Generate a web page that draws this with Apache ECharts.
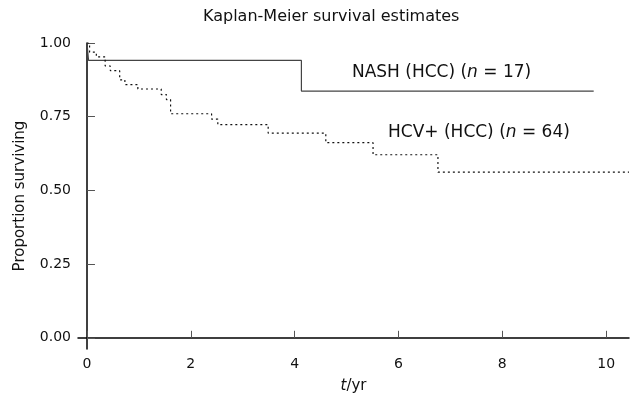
<!DOCTYPE html>
<html>
<head>
<meta charset="utf-8">
<script src="https://cdn.jsdelivr.net/npm/echarts@6/dist/echarts.min.js"></script>
<style>
  html, body { margin: 0; padding: 0; background: #fff; }
  #chartmain { width: 632px; height: 401px; }
</style>
</head>
<body>
<div id="chartmain"></div>
<script>
// Kaplan-Meier step curves
var nashTimes = [0, 0.03, 4.13, 9.76];
var nashSurv = [1.0, 0.941, 0.837, 0.837];

var hcvTimes = [0, 0.05, 0.18, 0.35, 0.45, 0.63, 0.73, 0.98, 1.43, 1.53, 1.61, 2.40, 2.52, 3.49, 4.60, 5.51, 6.76, 10.44];
var hcvSurv = [1.0, 0.969, 0.953, 0.922, 0.906, 0.875, 0.859, 0.844, 0.825, 0.808, 0.760, 0.742, 0.723, 0.694, 0.662, 0.621, 0.562, 0.562];

var xTicks = [0, 2, 4, 6, 8, 10];
var yTicks = [0, 0.25, 0.5, 0.75, 1];

function pairs(xs, ys) {
	var out = [];
	for (var i = 0; i < xs.length; i++) {
		out.push([xs[i], ys[i]]);
	}
	return out;
}

var font = 'DejaVu Sans';

var option = {
	animation : false,
	title : {
		text : 'Kaplan-Meier survival estimates',
		left : 198,
		top : 4,
		textStyle : { fontFamily : font, fontSize : 16, fontWeight : 'normal', color : '#111' }
	},
	grid : {
		left : 78,
		right : 3,
		top : 43,
		bottom : 52
	},
	xAxis : {
		type : 'value',
		min : -0.173,
		max : 10.44,
		name : '{i|t}/yr',
		nameLocation : 'middle',
		nameGap : 30,
		nameTextStyle : {
			fontFamily : font, fontSize : 15, color : '#111',
			rich : { i : { fontFamily : font, fontSize : 15, fontStyle : 'italic', color : '#111' } }
		},
		splitLine : { show : false },
		axisLine : { lineStyle : { color : '#000', width : 1.5 } },
		axisTick : { inside : true, length : 7, customValues : xTicks, lineStyle : { color : '#555' } },
		axisLabel : { customValues : xTicks, margin : 8, fontFamily : font, fontSize : 14, color : '#111' }
	},
	yAxis : {
		type : 'value',
		min : -0.038,
		max : 1.0,
		name : 'Proportion surviving',
		nameLocation : 'middle',
		nameGap : 50,
		nameTextStyle : { fontFamily : font, fontSize : 15, color : '#111' },
		splitLine : { show : false },
		axisLine : { show : true, lineStyle : { color : '#000', width : 1.5 } },
		axisTick : { show : true, inside : true, length : 8, customValues : yTicks, lineStyle : { color : '#555' } },
		axisLabel : {
			customValues : yTicks, margin : 7, fontFamily : font, fontSize : 14, color : '#111',
			formatter : function(v) { return v.toFixed(2); }
		}
	},
	series : [ {
		name : 'NASH (HCC)',
		type : 'line',
		step : 'end',
		symbol : 'none',
		lineStyle : { color : '#444', width : 1.2, type : 'solid' },
		data : pairs(nashTimes, nashSurv),
		markPoint : {
			symbolSize : 0,
			data : [ { coord : [6.83, 0.899], value : 0 } ],
			label : {
				show : true,
				position : 'inside',
				formatter : 'NASH (HCC) ({i|n} = 17)',
				fontFamily : font, fontSize : 17, color : '#111',
				rich : { i : { fontFamily : font, fontSize : 17, fontStyle : 'italic', color : '#111' } }
			}
		}
	}, {
		name : 'HCV+ (HCC)',
		type : 'line',
		step : 'end',
		symbol : 'none',
		lineStyle : { color : '#111', width : 1.2, type : [2, 3] },
		data : pairs(hcvTimes, hcvSurv),
		markPoint : {
			symbolSize : 0,
			data : [ { coord : [7.55, 0.695], value : 0 } ],
			label : {
				show : true,
				position : 'inside',
				formatter : 'HCV+ (HCC) ({i|n} = 64)',
				fontFamily : font, fontSize : 17, color : '#111',
				rich : { i : { fontFamily : font, fontSize : 17, fontStyle : 'italic', color : '#111' } }
			}
		}
	} ]
};

var myChart = echarts.init(document.getElementById('chartmain'));
myChart.setOption(option);
</script>
</body>
</html>
